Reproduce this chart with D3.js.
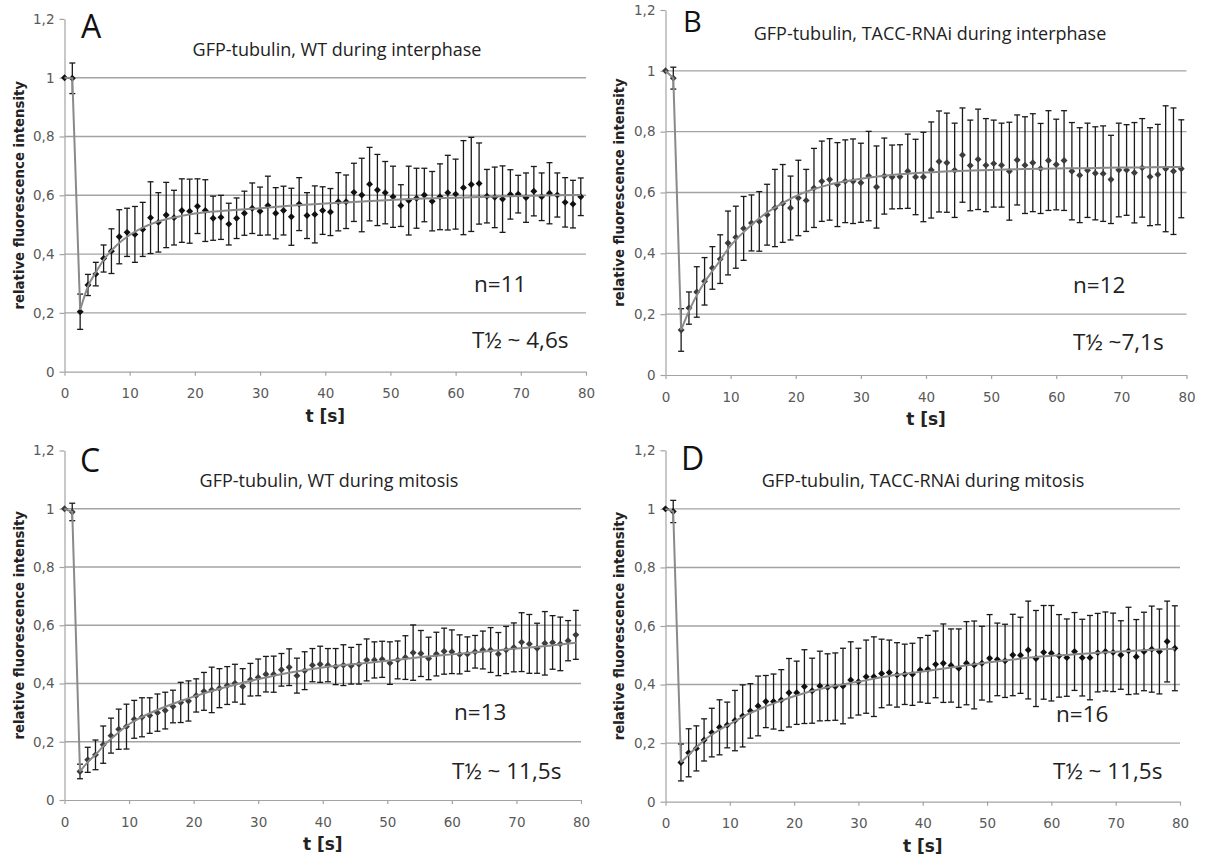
<!DOCTYPE html>
<html>
<head>
<meta charset="utf-8">
<script src="https://cdn.jsdelivr.net/npm/d3@7"></script>
<style>
  body { margin: 0; background: #fff; }
  svg { display: block; }
</style>
</head>
<body>
<svg id="chart" width="1205" height="861"></svg>
<script>
// time points (s), one frame every ~1.2 s
const times = [0, 1.2, 2.4, 3.6, 4.8, 6, 7.2, 8.4, 9.6, 10.8, 12, 13.2, 14.4, 15.6, 16.8, 18, 19.2, 20.4, 21.6, 22.8,
  24, 25.2, 26.4, 27.6, 28.8, 30, 31.2, 32.4, 33.6, 34.8, 36, 37.2, 38.4, 39.6, 40.8, 42, 43.2, 44.4, 45.6, 46.8,
  48, 49.2, 50.4, 51.6, 52.8, 54, 55.2, 56.4, 57.6, 58.8, 60, 61.2, 62.4, 63.6, 64.8, 66, 67.2, 68.4, 69.6, 70.8,
  72, 73.2, 74.4, 75.6, 76.8, 78, 79.2];

const x_ticks = [0, 10, 20, 30, 40, 50, 60, 70, 80];
const y_ticks = [0, 0.2, 0.4, 0.6, 0.8, 1, 1.2];
const y_tick_labels = ['0', '0,2', '0,4', '0,6', '0,8', '1', '1,2'];
const grid_values = [0.2, 0.4, 0.6, 0.8, 1];

// A: WT interphase
const wt_inter_mean = [1.0, 0.998, 0.204, 0.295, 0.332, 0.385, 0.41, 0.459, 0.474, 0.467, 0.484, 0.524, 0.508, 0.533,
  0.524, 0.548, 0.546, 0.563, 0.548, 0.522, 0.525, 0.502, 0.522, 0.539, 0.556, 0.546, 0.565, 0.539, 0.548, 0.527,
  0.57, 0.531, 0.535, 0.548, 0.543, 0.578, 0.578, 0.61, 0.601, 0.638, 0.618, 0.609, 0.595, 0.565, 0.582, 0.59,
  0.601, 0.58, 0.595, 0.609, 0.604, 0.626, 0.637, 0.64, 0.597, 0.593, 0.587, 0.603, 0.604, 0.592, 0.614, 0.595,
  0.607, 0.601, 0.576, 0.57, 0.595];
const wt_inter_err = [0, 0.052, 0.06, 0.036, 0.04, 0.046, 0.076, 0.092, 0.082, 0.095, 0.092, 0.122, 0.101, 0.111,
  0.093, 0.108, 0.109, 0.093, 0.105, 0.075, 0.075, 0.071, 0.069, 0.075, 0.086, 0.082, 0.1, 0.087, 0.083, 0.097,
  0.09, 0.078, 0.097, 0.081, 0.08, 0.099, 0.091, 0.099, 0.125, 0.125, 0.121, 0.106, 0.104, 0.071, 0.117, 0.102,
  0.091, 0.101, 0.112, 0.127, 0.119, 0.16, 0.16, 0.138, 0.091, 0.103, 0.113, 0.084, 0.064, 0.084, 0.084, 0.081,
  0.104, 0.075, 0.084, 0.081, 0.064];

// B: TACC-RNAi interphase
const rnai_inter_mean = [1.0, 0.976, 0.148, 0.22, 0.273, 0.308, 0.352, 0.381, 0.434, 0.453, 0.482, 0.5, 0.505, 0.527,
  0.549, 0.564, 0.549, 0.582, 0.574, 0.615, 0.637, 0.643, 0.626, 0.637, 0.637, 0.632, 0.654, 0.618, 0.654, 0.651,
  0.652, 0.67, 0.651, 0.651, 0.674, 0.702, 0.698, 0.673, 0.723, 0.689, 0.709, 0.69, 0.695, 0.69, 0.67, 0.707,
  0.69, 0.698, 0.679, 0.705, 0.692, 0.705, 0.67, 0.657, 0.673, 0.663, 0.662, 0.643, 0.674, 0.674, 0.665, 0.681,
  0.652, 0.659, 0.678, 0.67, 0.678];
const rnai_inter_err = [0, 0.036, 0.07, 0.053, 0.083, 0.078, 0.07, 0.08, 0.105, 0.102, 0.105, 0.092, 0.098, 0.1,
  0.127, 0.128, 0.105, 0.124, 0.102, 0.13, 0.132, 0.134, 0.138, 0.136, 0.139, 0.13, 0.147, 0.135, 0.125, 0.105,
  0.105, 0.122, 0.124, 0.147, 0.158, 0.166, 0.163, 0.155, 0.155, 0.149, 0.165, 0.153, 0.143, 0.138, 0.161, 0.148,
  0.159, 0.161, 0.148, 0.164, 0.149, 0.164, 0.16, 0.156, 0.155, 0.153, 0.157, 0.145, 0.154, 0.149, 0.165, 0.162,
  0.161, 0.165, 0.207, 0.208, 0.161];

// C: WT mitosis
const wt_mit_mean = [1.0, 0.989, 0.098, 0.138, 0.155, 0.19, 0.221, 0.243, 0.252, 0.277, 0.284, 0.29, 0.3, 0.307,
  0.321, 0.335, 0.34, 0.359, 0.373, 0.378, 0.384, 0.393, 0.401, 0.39, 0.413, 0.421, 0.432, 0.432, 0.447, 0.456,
  0.427, 0.444, 0.463, 0.466, 0.463, 0.458, 0.463, 0.461, 0.466, 0.481, 0.481, 0.483, 0.47, 0.481, 0.489, 0.506,
  0.503, 0.486, 0.501, 0.511, 0.509, 0.5, 0.501, 0.509, 0.515, 0.515, 0.501, 0.515, 0.524, 0.542, 0.536, 0.521,
  0.538, 0.541, 0.536, 0.547, 0.567];
const wt_mit_err = [0, 0.03, 0.025, 0.043, 0.051, 0.064, 0.06, 0.069, 0.077, 0.065, 0.067, 0.061, 0.064, 0.063,
  0.056, 0.069, 0.069, 0.057, 0.065, 0.078, 0.067, 0.065, 0.065, 0.061, 0.056, 0.063, 0.061, 0.062, 0.056, 0.063,
  0.06, 0.065, 0.057, 0.062, 0.057, 0.062, 0.07, 0.063, 0.068, 0.072, 0.062, 0.062, 0.073, 0.065, 0.075, 0.095,
  0.079, 0.073, 0.075, 0.079, 0.075, 0.067, 0.059, 0.056, 0.065, 0.077, 0.074, 0.081, 0.084, 0.101, 0.101, 0.086,
  0.109, 0.092, 0.092, 0.069, 0.084];

// D: TACC-RNAi mitosis
const rnai_mit_mean = [1.0, 0.991, 0.134, 0.167, 0.182, 0.211, 0.236, 0.254, 0.262, 0.277, 0.293, 0.31, 0.327, 0.342,
  0.342, 0.347, 0.372, 0.372, 0.393, 0.379, 0.395, 0.391, 0.393, 0.395, 0.416, 0.41, 0.427, 0.427, 0.438, 0.441,
  0.433, 0.435, 0.435, 0.45, 0.452, 0.469, 0.473, 0.465, 0.456, 0.473, 0.467, 0.473, 0.49, 0.486, 0.481, 0.501,
  0.5, 0.518, 0.489, 0.51, 0.507, 0.498, 0.492, 0.513, 0.492, 0.492, 0.509, 0.513, 0.51, 0.501, 0.515, 0.495,
  0.513, 0.521, 0.513, 0.547, 0.524];
const rnai_mit_err = [0, 0.038, 0.063, 0.082, 0.077, 0.072, 0.083, 0.094, 0.078, 0.103, 0.106, 0.093, 0.102, 0.089,
  0.094, 0.104, 0.117, 0.108, 0.126, 0.111, 0.119, 0.114, 0.115, 0.129, 0.13, 0.114, 0.125, 0.136, 0.117, 0.111,
  0.11, 0.103, 0.106, 0.11, 0.116, 0.114, 0.134, 0.125, 0.134, 0.142, 0.15, 0.126, 0.149, 0.124, 0.125, 0.139,
  0.13, 0.167, 0.164, 0.16, 0.163, 0.141, 0.132, 0.133, 0.131, 0.144, 0.134, 0.135, 0.134, 0.117, 0.149, 0.127,
  0.134, 0.147, 0.145, 0.138, 0.145];

// fitted recovery curves (grey lines)
const fit_times = [0, 1.2, 2.4, 3.6, 5, 6, 8, 10, 12, 15, 18, 20, 25, 30, 35, 40, 45, 50, 55, 60, 65, 70, 75, 79.2];
const wt_inter_fit = [1.0, 0.998, 0.21, 0.29, 0.345, 0.38, 0.43, 0.465, 0.49, 0.515, 0.53, 0.538, 0.548, 0.556,
  0.565, 0.572, 0.578, 0.584, 0.589, 0.592, 0.595, 0.598, 0.6, 0.601];
const rnai_inter_fit = [1.0, 0.976, 0.148, 0.21, 0.27, 0.305, 0.365, 0.425, 0.47, 0.525, 0.565, 0.588, 0.625, 0.645,
  0.658, 0.666, 0.671, 0.674, 0.677, 0.679, 0.68, 0.682, 0.683, 0.684];
const wt_mit_fit = [1.0, 0.989, 0.098, 0.13, 0.16, 0.185, 0.225, 0.26, 0.285, 0.315, 0.34, 0.355, 0.388, 0.415,
  0.438, 0.455, 0.467, 0.478, 0.49, 0.5, 0.51, 0.52, 0.53, 0.54];
const rnai_mit_fit = [1.0, 0.991, 0.134, 0.16, 0.19, 0.21, 0.24, 0.265, 0.29, 0.32, 0.345, 0.36, 0.39, 0.41, 0.43,
  0.445, 0.46, 0.475, 0.488, 0.498, 0.505, 0.512, 0.518, 0.522];

const panel_letters = ['A', 'B', 'C', 'D'];
const panel_titles = ['GFP-tubulin, WT during interphase', 'GFP-tubulin, TACC-RNAi during interphase',
  'GFP-tubulin, WT during mitosis', 'GFP-tubulin, TACC-RNAi during mitosis'];
const n_labels = ['n=11', 'n=12', 'n=13', 'n=16'];
const half_labels = ['T\u00bd ~ 4,6s', 'T\u00bd ~7,1s', 'T\u00bd ~ 11,5s', 'T\u00bd ~ 11,5s'];
const x_title = 't [s]';
const y_title = 'relative fluorescence intensity';

const means = [wt_inter_mean, rnai_inter_mean, wt_mit_mean, rnai_mit_mean];
const errs = [wt_inter_err, rnai_inter_err, wt_mit_err, rnai_mit_err];
const fits = [wt_inter_fit, rnai_inter_fit, wt_mit_fit, rnai_mit_fit];

// layout of the four panels
const boxes = [
  {left: 64.5, right: 586, top: 18.9, bottom: 371.7, letter: [81, 38, 32], title: [337, 56], n: [474, 292], half: [472, 348], ytx: 19, dot: '#111'},
  {left: 665.5, right: 1186.5, top: 10, bottom: 375, letter: [683, 32, 29], title: [930, 40], n: [1073, 293], half: [1073, 350], ytx: 619, dot: '#3c3c3c'},
  {left: 64.5, right: 581, top: 450.5, bottom: 800, letter: [80, 472, 32], title: [329, 487], n: [454, 720], half: [452, 779], ytx: 19, dot: '#3c3c3c'},
  {left: 665.5, right: 1180, top: 450.3, bottom: 801.7, letter: [681, 470, 32], title: [923, 487], n: [1056, 722], half: [1053, 779], ytx: 619, dot: '#111'}
];

const svg = d3.select('#chart');
const grid_col = '#a3a3a3';
const text_font = '"Open Sans", sans-serif';

function draw_panel(i) {
  const box = boxes[i];
  const g = svg.append('g');
  const x = d3.scaleLinear().domain([0, 80]).range([box.left, box.right]);
  const y = d3.scaleLinear().domain([0, 1.2]).range([box.bottom, box.top]);

  g.selectAll('.grid')
    .data(grid_values)
    .enter()
    .append('line')
    .attr('x1', box.left)
    .attr('x2', box.right)
    .attr('y1', d => y(d))
    .attr('y2', d => y(d))
    .attr('stroke', grid_col)
    .attr('stroke-width', 1.4);

  const x_axis = d3.axisBottom(x).tickValues(x_ticks).tickSize(4).tickSizeOuter(0).tickPadding(13);
  const y_axis = d3.axisLeft(y).tickValues(y_ticks).tickSize(5).tickSizeOuter(0).tickPadding(5)
    .tickFormat((d, k) => y_tick_labels[k]);

  const gx = g.append('g').attr('transform', 'translate(0,' + box.bottom + ')').call(x_axis);
  const gy = g.append('g').attr('transform', 'translate(' + box.left + ',0)').call(y_axis);
  [gx, gy].forEach(a => {
    a.select('.domain').attr('stroke', grid_col).attr('stroke-width', 1.2);
    a.selectAll('.tick line').attr('stroke', grid_col).attr('stroke-width', 1.2);
    a.selectAll('.tick text')
      .attr('fill', '#595959')
      .style('font-family', '"DejaVu Sans", sans-serif')
      .style('font-size', '13.5px');
  });

  const pts = times.map((t, k) => ({t: t, m: means[i][k], e: errs[i][k]}));

  // error bars
  const bars = g.selectAll('.err')
    .data(pts.filter(d => d.e > 0))
    .enter()
    .append('g')
    .attr('stroke', '#1a1a1a')
    .attr('stroke-width', 1.3);
  bars.append('line')
    .attr('x1', d => x(d.t)).attr('x2', d => x(d.t))
    .attr('y1', d => y(d.m - d.e)).attr('y2', d => y(d.m + d.e));
  bars.append('line')
    .attr('x1', d => x(d.t) - 3).attr('x2', d => x(d.t) + 3)
    .attr('y1', d => y(d.m + d.e)).attr('y2', d => y(d.m + d.e));
  bars.append('line')
    .attr('x1', d => x(d.t) - 3).attr('x2', d => x(d.t) + 3)
    .attr('y1', d => y(d.m - d.e)).attr('y2', d => y(d.m - d.e));

  // diamonds
  g.selectAll('.dot')
    .data(pts)
    .enter()
    .append('path')
    .attr('d', d3.symbol().type(d3.symbolSquare).size(24))
    .attr('transform', d => 'translate(' + x(d.t) + ',' + y(d.m) + ') rotate(45)')
    .attr('fill', box.dot);

  // fitted curve: straight bleach drop, then smooth recovery
  const fit_pts = fit_times.map((t, k) => [x(t), y(fits[i][k])]);
  g.append('path')
    .attr('d', d3.line()(fit_pts.slice(0, 3)))
    .attr('fill', 'none')
    .attr('stroke', '#8a8a8a')
    .attr('stroke-width', 2);
  g.append('path')
    .attr('d', d3.line().curve(d3.curveMonotoneX)(fit_pts.slice(2)))
    .attr('fill', 'none')
    .attr('stroke', '#8a8a8a')
    .attr('stroke-width', 2);

  // texts
  g.append('text')
    .attr('x', box.letter[0]).attr('y', box.letter[1])
    .text(panel_letters[i])
    .style('font-family', text_font).style('font-size', box.letter[2] + 'px').attr('fill', '#111');
  g.append('text')
    .attr('x', box.title[0]).attr('y', box.title[1])
    .attr('text-anchor', 'middle')
    .text(panel_titles[i])
    .style('font-family', text_font).style('font-size', '18px').attr('fill', '#222');
  g.append('text')
    .attr('x', box.n[0]).attr('y', box.n[1])
    .text(n_labels[i])
    .style('font-family', text_font).style('font-size', '22.5px').attr('fill', '#222');
  g.append('text')
    .attr('x', box.half[0]).attr('y', box.half[1])
    .text(half_labels[i])
    .style('font-family', text_font).style('font-size', '22.5px').attr('fill', '#222');
  g.append('text')
    .attr('x', (box.left + box.right) / 2).attr('y', box.bottom + 50)
    .attr('text-anchor', 'middle')
    .text(x_title)
    .style('font-family', '"DejaVu Sans", sans-serif').style('font-size', '17px')
    .style('font-weight', 'bold').attr('fill', '#222');
  g.append('text')
    .attr('transform', 'translate(' + box.ytx + ',' + (box.top + box.bottom) / 2 + ') rotate(-90)')
    .attr('text-anchor', 'middle')
    .attr('dominant-baseline', 'central')
    .text(y_title)
    .style('font-family', '"DejaVu Sans", sans-serif').style('font-size', '13.3px')
    .style('font-weight', 'bold').attr('fill', '#222');
}

[0, 1, 2, 3].forEach(draw_panel);
</script>
</body>
</html>
